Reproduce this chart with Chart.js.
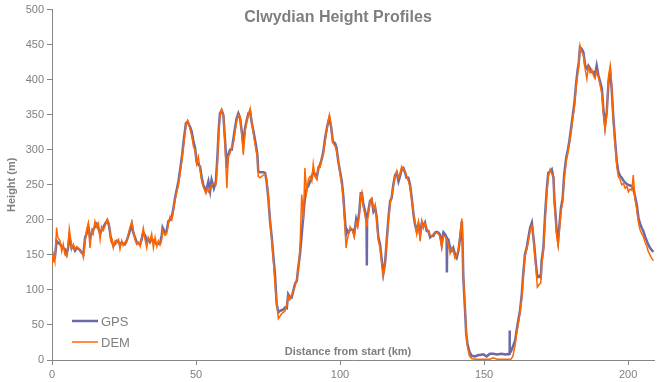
<!DOCTYPE html>
<html>
<head>
<meta charset="utf-8">
<script src="https://cdn.jsdelivr.net/npm/chart.js"></script>
<style>
  html, body { margin: 0; padding: 0; background: #fff; }
  #wrap { width: 664px; height: 382px; }
</style>
</head>
<body>
<div id="wrap"><canvas id="profileChart" width="664" height="382"></canvas></div>
<script>
const chartTitle = 'Clwydian Height Profiles';
const xTitle = 'Distance from start (km)';
const yTitle = 'Height (m)';
const seriesNames = ['GPS', 'DEM'];
const xTicks = [0, 50, 100, 150, 200];
const yTicks = [0, 50, 100, 150, 200, 250, 300, 350, 400, 450, 500];

// distance along route (km)
const distKm = [
  0.0, 0.5, 1.0, 1.6, 2.0, 2.8, 3.4, 3.9, 4.5, 5.1, 5.6, 6.0, 6.4, 6.8, 7.4, 8.0, 8.6, 9.1, 9.7, 10.3,
  10.9, 11.5, 12.0, 12.6, 13.2, 13.8, 14.3, 14.9, 15.5, 16.1, 16.7, 17.2, 17.8, 18.5, 19.2, 19.8, 20.4, 20.9, 21.3, 21.9,
  22.5, 23.1, 23.6, 24.2, 24.7, 25.3, 25.9, 26.5, 27.1, 27.7, 28.2, 28.8, 29.4, 30.0, 30.6, 31.1, 31.7, 32.3, 32.9, 33.4,
  34.0, 34.6, 35.2, 35.8, 36.4, 36.9, 37.5, 38.1, 38.4, 39.2, 39.8, 40.4, 41.0, 41.6, 42.1, 42.7, 43.3, 43.9, 44.4, 45.2,
  45.8, 46.5, 47.1, 47.5, 47.9, 48.5, 49.1, 49.7, 50.2, 50.8, 51.4, 52.0, 52.5, 53.4, 54.0, 54.3, 54.9, 55.4, 56.2, 56.9,
  57.4, 57.9, 58.3, 58.9, 59.5, 60.1, 60.7, 61.2, 61.8, 62.4, 63.0, 63.5, 64.1, 64.7, 65.3, 65.9, 66.4, 67.0, 67.6, 68.2,
  68.8, 69.3, 70.1, 70.8, 71.3, 71.6, 72.2, 72.8, 73.4, 74.0, 74.5, 75.1, 75.7, 76.3, 76.8, 77.4, 78.0, 78.6, 79.1, 79.7,
  80.3, 80.9, 81.5, 82.0, 82.6, 83.2, 83.8, 84.4, 85.0, 85.5, 86.1, 86.7, 87.3, 87.8, 88.4, 89.0, 89.6, 90.2, 90.7, 91.3,
  91.9, 92.5, 93.1, 93.6, 94.2, 94.8, 95.4, 95.9, 96.3, 96.9, 97.5, 98.3, 98.8, 99.4, 100.0, 100.6, 101.1, 101.5, 102.1, 102.5,
  102.9, 103.5, 104.4, 104.9, 105.6, 106.1, 106.7, 107.2, 107.6, 108.1, 108.7, 109.2, 109.3, 109.4, 109.8, 110.4, 111.0, 111.6, 112.2, 112.7,
  113.3, 113.9, 114.5, 115.0, 115.6, 116.2, 116.8, 117.4, 117.9, 118.5, 119.1, 119.7, 120.3, 120.8, 121.4, 122.0, 122.6, 123.1, 123.7, 124.3,
  124.9, 125.5, 126.0, 126.6, 127.2, 127.8, 128.4, 128.9, 129.5, 130.1, 130.7, 131.3, 131.8, 132.4, 133.0, 133.6, 134.1, 134.7, 135.3, 135.9,
  136.5, 137.0, 137.1, 137.2, 137.6, 138.2, 138.8, 139.3, 139.9, 140.5, 141.1, 141.7, 142.3, 142.6, 142.8, 143.4, 143.8, 144.2, 144.9, 145.7,
  146.9, 148.0, 148.6, 149.8, 150.9, 152.0, 153.2, 154.5, 156.0, 157.5, 158.7, 158.8, 159.0, 159.3, 160.0, 160.8, 161.3, 161.9, 162.5, 163.1,
  163.6, 164.2, 164.8, 165.4, 166.0, 166.6, 166.9, 167.4, 168.0, 168.5, 169.2, 169.7, 170.0, 170.6, 171.2, 171.8, 172.3, 172.9, 173.5, 174.1,
  174.4, 174.9, 175.2, 175.7, 176.2, 176.7, 177.3, 177.8, 178.5, 179.1, 179.6, 180.2, 180.8, 181.4, 181.9, 182.4, 182.9, 183.3, 183.9, 184.5,
  185.1, 185.7, 186.2, 186.8, 187.4, 188.0, 188.5, 189.1, 189.7, 190.3, 190.9, 191.4, 192.0, 192.6, 193.2, 193.8, 194.3, 194.9, 195.5, 196.1,
  196.6, 197.2, 197.8, 198.4, 199.0, 199.6, 200.1, 200.7, 201.3, 201.8, 202.4, 203.0, 203.6, 204.2, 204.8, 205.3, 205.9, 206.5, 207.0, 207.6,
  208.2, 208.8
];

// GPS height (m)
const gpsHeight = [
  139, 145, 146, 170, 168, 165, 162, 160, 158, 151, 160, 175, 170, 160, 162, 156, 160, 159, 157, 153,
  151, 175, 180, 191, 175, 180, 186, 190, 194, 188, 180, 185, 189, 195, 199, 192, 175, 168, 163, 166,
  170, 168, 165, 168, 166, 165, 170, 177, 185, 194, 182, 175, 168, 166, 165, 172, 182, 178, 170, 172,
  168, 173, 170, 168, 165, 166, 166, 178, 189, 182, 184, 198, 200, 204, 215, 231, 243, 255, 269, 293,
  316, 338, 340, 336, 333, 326, 312, 302, 283, 279, 276, 260, 250, 241, 250, 255, 241, 257, 245, 255,
  288, 330, 352, 356, 349, 312, 274, 293, 300, 300, 316, 330, 345, 352, 345, 326, 307, 330, 342, 352,
  354, 340, 323, 307, 293, 269, 268, 268, 268, 267, 255, 231, 198, 175, 150, 123, 80, 68, 70, 71,
  72, 75, 74, 94, 90, 89, 99, 109, 113, 132, 151, 179, 208, 231, 245, 248, 255, 260, 269, 265,
  260, 274, 279, 286, 297, 316, 330, 340, 345, 333, 312, 309, 302, 283, 269, 255, 236, 212, 179, 185,
  182, 186, 186, 179, 201, 194, 212, 238, 238, 222, 212, 198, 135, 205, 212, 227, 229, 212, 217, 205,
  175, 165, 142, 123, 137, 170, 203, 227, 231, 250, 264, 267, 255, 262, 272, 274, 267, 260, 260, 250,
  231, 208, 194, 184, 194, 179, 196, 191, 196, 184, 184, 175, 177, 177, 182, 183, 182, 179, 165, 182,
  179, 175, 125, 172, 172, 160, 156, 160, 151, 146, 156, 175, 198, 156, 118, 71, 38, 24, 12, 6,
  5, 7, 7, 8, 5, 9, 9, 8, 9, 8, 9, 42, 10, 12, 19, 28, 42, 57, 71, 94,
  123, 151, 160, 175, 189, 196, 184, 165, 137, 118, 120, 118, 142, 160, 208, 245, 267, 269, 272, 260,
  231, 203, 184, 170, 194, 217, 231, 264, 288, 300, 312, 330, 349, 368, 392, 411, 425, 446, 444, 439,
  420, 416, 420, 416, 411, 411, 406, 420, 406, 397, 387, 359, 335, 354, 397, 411, 387, 345, 312, 283,
  269, 263, 260, 256, 253, 251, 250, 249, 248, 245, 234, 222, 203, 194, 188, 184, 176, 170, 165, 160,
  157, 154
];

// DEM height (m)
const demHeight = [
  135, 150, 140, 189, 175, 170, 155, 165, 150, 148, 165, 187, 175, 158, 165, 158, 162, 160, 155, 155,
  146, 170, 185, 195, 160, 185, 180, 198, 190, 195, 172, 190, 185, 192, 201, 195, 170, 172, 160, 170,
  168, 172, 158, 170, 163, 168, 168, 180, 190, 197, 185, 172, 165, 168, 162, 175, 188, 172, 160, 175,
  170, 180, 160, 175, 162, 170, 164, 172, 185, 178, 180, 195, 205, 200, 212, 228, 240, 250, 265, 288,
  310, 335, 342, 338, 330, 320, 305, 298, 280, 290, 272, 255, 248, 238, 245, 240, 244, 250, 252, 250,
  280, 325, 348, 358, 352, 305, 245, 290, 295, 305, 310, 325, 340, 350, 348, 322, 293, 325, 340, 350,
  359, 342, 318, 300, 290, 262, 260, 262, 264, 266, 258, 235, 200, 170, 146, 110, 82, 59, 62, 66,
  68, 70, 78, 92, 86, 92, 100, 106, 116, 128, 160, 236, 200, 274, 240, 258, 262, 255, 280, 262,
  258, 276, 275, 288, 294, 312, 328, 342, 350, 336, 310, 305, 298, 285, 266, 250, 232, 205, 160, 172,
  178, 190, 184, 176, 196, 190, 208, 235, 240, 218, 206, 195, 190, 200, 205, 228, 231, 215, 222, 200,
  170, 160, 138, 120, 135, 168, 200, 224, 233, 248, 262, 270, 260, 265, 276, 272, 270, 262, 256, 247,
  228, 210, 198, 180, 196, 170, 198, 188, 195, 188, 182, 178, 176, 180, 180, 182, 180, 176, 160, 178,
  176, 172, 172, 170, 165, 152, 160, 156, 145, 150, 158, 180, 202, 170, 120, 75, 40, 20, 6, 2,
  1, 1, 1, 1, 1, 1, 3, 1, 1, 1, 1, 1, 1, 1, 5, 22, 38, 52, 68, 90,
  118, 148, 158, 170, 185, 192, 190, 160, 132, 104, 108, 110, 135, 155, 200, 240, 262, 272, 266, 262,
  225, 198, 178, 163, 188, 212, 226, 258, 283, 296, 308, 325, 345, 362, 388, 405, 420, 449, 440, 435,
  415, 401, 418, 410, 414, 406, 402, 412, 404, 392, 380, 352, 328, 350, 405, 420, 392, 340, 308, 276,
  262, 258, 250, 252, 245, 248, 240, 244, 242, 264, 230, 215, 196, 185, 180, 176, 168, 162, 155, 150,
  145, 142
];

const gpsColor = '#6a6aa6';
const demColor = '#ff6600';
const greyText = '#7f7f7f';
const axisGrey = '#868686';

const toPoints = (ys) => distKm.map((x, i) => ({ x: x, y: ys[i] }));

// title, x-axis label and legend sit inside the plot like the original
const overlayText = {
  id: 'overlayText',
  afterDraw(chart) {
    const ctx = chart.ctx;
    const area = chart.chartArea;
    ctx.save();
    ctx.fillStyle = greyText;
    ctx.textBaseline = 'middle';
    ctx.textAlign = 'center';
    ctx.font = 'bold 16px "Liberation Sans", Arial, sans-serif';
    ctx.fillText(chartTitle, 338, 18);
    ctx.font = 'bold 11px "Liberation Sans", Arial, sans-serif';
    ctx.fillText(xTitle, 348, area.bottom - 8);

    ctx.textAlign = 'left';
    ctx.font = '13px "Liberation Sans", Arial, sans-serif';
    const rows = [
      { name: seriesNames[0], color: gpsColor, width: 2.5, y: 321 },
      { name: seriesNames[1], color: demColor, width: 1.5, y: 342 }
    ];
    rows.forEach(r => {
      ctx.strokeStyle = r.color;
      ctx.lineWidth = r.width;
      ctx.beginPath();
      ctx.moveTo(72, r.y);
      ctx.lineTo(98, r.y);
      ctx.stroke();
      ctx.fillText(r.name, 101, r.y + 1);
    });
    ctx.restore();
  }
};

new Chart(document.getElementById('profileChart'), {
  type: 'line',
  data: {
    datasets: [
      {
        label: seriesNames[0],
        data: toPoints(gpsHeight),
        borderColor: gpsColor,
        borderWidth: 2.5,
        pointRadius: 0,
        tension: 0,
        order: 1
      },
      {
        label: seriesNames[1],
        data: toPoints(demHeight),
        borderColor: demColor,
        borderWidth: 1.5,
        pointRadius: 0,
        tension: 0,
        order: 0
      }
    ]
  },
  options: {
    responsive: false,
    animation: false,
    layout: { padding: { left: 0, right: 10, top: 7, bottom: 0 } },
    plugins: {
      legend: { display: false },
      title: { display: false },
      tooltip: { enabled: false }
    },
    scales: {
      x: {
        type: 'linear',
        min: 0,
        max: 209,
        afterBuildTicks: (scale) => { scale.ticks = xTicks.map(v => ({ value: v })); },
        afterFit: (scale) => { scale.height = 22; },
        ticks: {
          includeBounds: false,
          color: greyText,
          padding: 3,
          maxRotation: 0,
          font: { family: '"Liberation Sans", Arial, sans-serif', size: 11 }
        },
        grid: { drawOnChartArea: false, drawTicks: true, tickLength: 5, color: axisGrey },
        border: { display: true, color: axisGrey, width: 1 }
      },
      y: {
        min: 0,
        max: 500,
        afterBuildTicks: (scale) => { scale.ticks = yTicks.map(v => ({ value: v })); },
        afterFit: (scale) => { scale.width = 52; },
        ticks: {
          color: greyText,
          padding: 3,
          font: { family: '"Liberation Sans", Arial, sans-serif', size: 11 }
        },
        title: {
          display: true,
          text: yTitle,
          color: greyText,
          padding: { top: 5, bottom: 0 },
          font: { family: '"Liberation Sans", Arial, sans-serif', size: 11, weight: 'bold' }
        },
        grid: { drawOnChartArea: false, drawTicks: true, tickLength: 5, color: axisGrey },
        border: { display: true, color: axisGrey, width: 1 }
      }
    }
  },
  plugins: [overlayText]
});
</script>
</body>
</html>
